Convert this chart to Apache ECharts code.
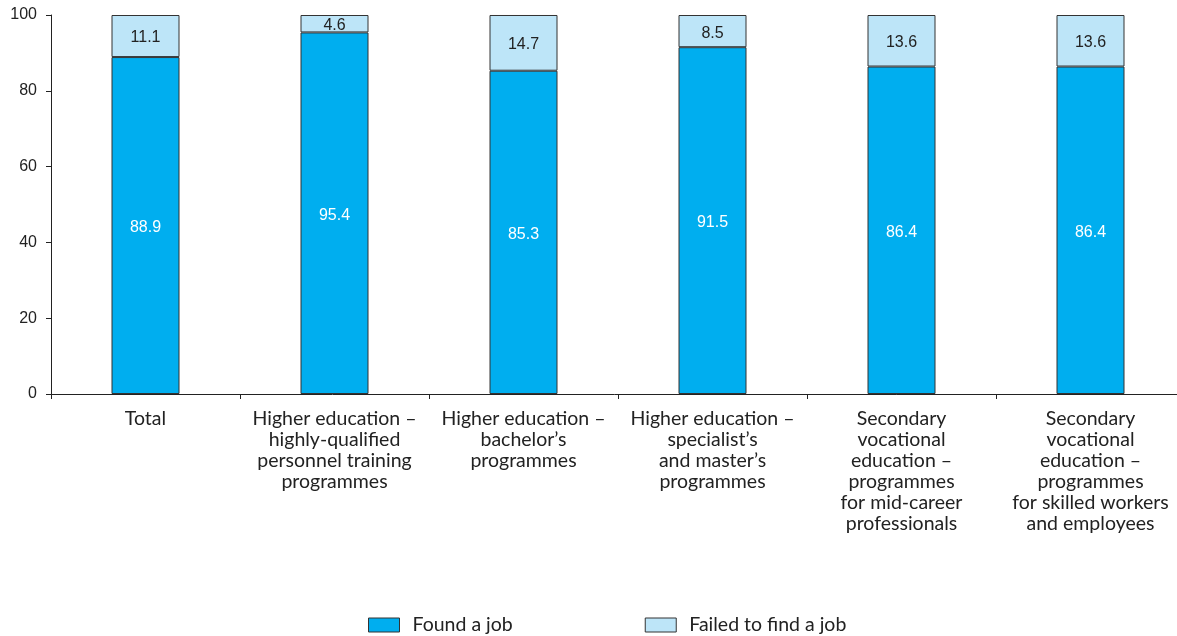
<!DOCTYPE html>
<html>
<head>
<meta charset="utf-8">
<script src="https://cdn.jsdelivr.net/npm/echarts@6/dist/echarts.min.js"></script>
<style>
  html, body { margin: 0; padding: 0; background: #fff; }
  #chart { width: 1177px; height: 636px; }
</style>
</head>
<body>
<div id="chart"></div>
<script>
// Employment outcome of graduates by level of education, %
const categories = [
  'Total',
  'Higher education –\nhighly-qualified\npersonnel training\nprogrammes',
  'Higher education –\nbachelor’s\nprogrammes',
  'Higher education –\nspecialist’s\nand master’s\nprogrammes',
  'Secondary\nvocational\neducation –\nprogrammes\nfor mid-career\nprofessionals',
  'Secondary\nvocational\neducation –\nprogrammes\nfor skilled workers\nand employees'
];
const foundJob = [88.9, 95.4, 85.3, 91.5, 86.4, 86.4];
const failedJob = [11.1, 4.6, 14.7, 8.5, 13.6, 13.6];
const yTicks = [0, 20, 40, 60, 80, 100];

const labelFont = 'Lato, "Open Sans", sans-serif';
const numFont = '"Liberation Sans", Arial, sans-serif';

const chart = echarts.init(document.getElementById('chart'));
chart.setOption({
  animation: false,
  // the category axis runs slightly past the right edge of the canvas
  grid: {
    left: 51, width: 1134, top: 15, bottom: 242,
    containLabel: false, outerBoundsMode: 'none'
  },
  legend: {
    left: 363,
    top: 610,
    icon: 'rect',
    itemWidth: 31,
    itemHeight: 14,
    itemGap: 132,
    itemStyle: { borderColor: '#333', borderWidth: 1 },
    textStyle: { fontFamily: labelFont, fontSize: 19.5, color: '#222', padding: [0, 0, 0, 8] },
    data: ['Found a job', 'Failed to find a job']
  },
  xAxis: {
    type: 'category',
    data: categories,
    axisLine: { lineStyle: { color: '#222', width: 1 } },
    axisTick: { show: true, length: 5, lineStyle: { color: '#222' } },
    axisLabel: {
      interval: 0,
      margin: 14,
      fontFamily: labelFont,
      fontSize: 19.5,
      lineHeight: 21,
      color: '#222',
      align: 'center'
    }
  },
  yAxis: {
    type: 'value',
    min: yTicks[0],
    max: yTicks[yTicks.length - 1],
    interval: 20,
    splitLine: { show: false },
    axisLine: { show: true, lineStyle: { color: '#222', width: 1 } },
    axisTick: { show: true, length: 5, lineStyle: { color: '#222' } },
    axisLabel: { fontFamily: numFont, fontSize: 16, color: '#222', margin: 14 }
  },
  series: [
    {
      name: 'Found a job',
      type: 'bar',
      stack: 'total',
      barWidth: 68,
      data: foundJob,
      itemStyle: { color: '#00aeef', borderColor: '#333', borderWidth: 1 },
      label: {
        show: true,
        position: 'inside',
        offset: [0, 2],
        color: '#fff',
        fontFamily: numFont,
        fontSize: 16,
        formatter: p => p.value.toFixed(1)
      }
    },
    {
      name: 'Failed to find a job',
      type: 'bar',
      stack: 'total',
      barWidth: 68,
      data: failedJob,
      itemStyle: { color: '#bde5f8', borderColor: '#333', borderWidth: 1 },
      label: {
        show: true,
        position: 'inside',
        offset: [0, 2],
        color: '#222',
        fontFamily: numFont,
        fontSize: 16,
        formatter: p => p.value.toFixed(1)
      }
    }
  ]
});
</script>
</body>
</html>
